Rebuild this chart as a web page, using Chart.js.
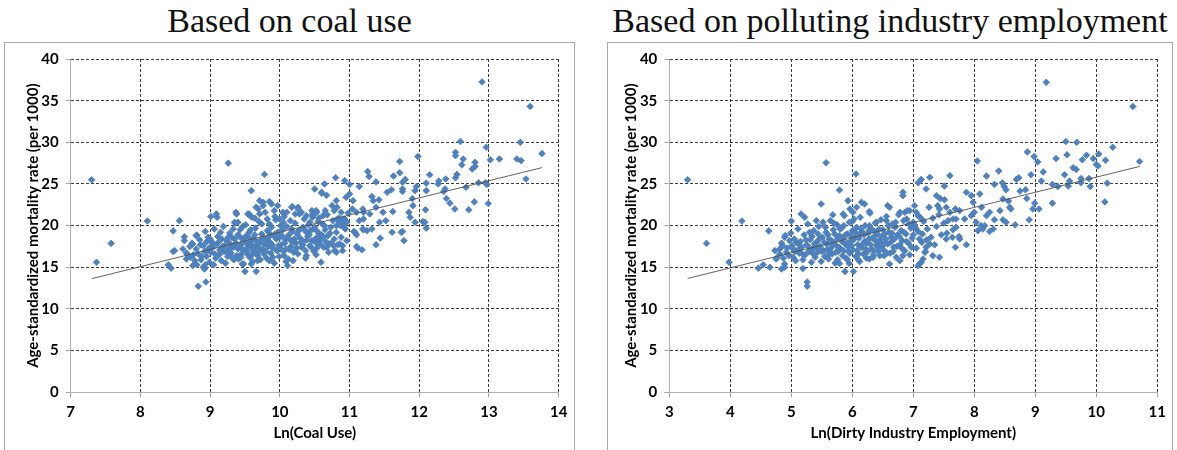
<!DOCTYPE html>
<html>
<head>
<meta charset="utf-8">
<script src="https://cdn.jsdelivr.net/npm/chart.js@4.4.1/dist/chart.umd.min.js"></script>
<style>
body { margin: 0; background: #fff; width: 1177px; height: 450px; overflow: hidden; position: relative; }
.ttl { position: absolute; top: 4px; font-family: "Liberation Serif", serif; font-size: 34px; line-height: 34px; text-align: center; color: #111; white-space: nowrap; }
.frame { position: absolute; top: 42px; border: 1px solid #a6a6a6; border-bottom: none; background: #fff; }
canvas { display: block; }
</style>
</head>
<body>
<div class="ttl" style="left:4px;width:571px">Based on coal use</div>
<div class="frame" style="left:4px;width:569px;height:407px"><canvas id="coalChart" width="569" height="407"></canvas></div>
<div class="ttl" style="left:607px;width:566px">Based on polluting industry employment</div>
<div class="frame" style="left:607px;width:564px;height:407px"><canvas id="dirtyChart" width="564" height="407"></canvas></div>
<script>
// ln(coal use) vs mortality
var coalData = [
  [7.3,25.5],[7.37,15.6],[7.58,17.87],[8.1,20.55],[8.4,15.3],[8.44,14.9],[8.49,17.0],[8.47,19.37],[8.56,20.6],
  [8.63,18.66],[8.81,18.86],[8.83,12.73],[8.94,13.24],[9.5,14.5],[9.66,14.5],[8.76,16.5],[8.81,15.3],[8.93,15.3],
  [8.66,16.7],[8.71,17.5],[8.86,17.7],[8.95,18.07],[8.63,18.2],[8.75,17.8],[8.93,19.3],[8.47,16.9],[8.61,17.2],
  [8.67,16.6],[8.66,16.0],[8.75,15.2],[8.9,15.0],[8.92,14.8],[8.8,18.8],
  [12.59,30.1],[13.45,30.0],[12.96,29.4],[13.76,28.65],[12.52,28.8],[12.52,28.4],[12.63,28.0],[12.8,27.6],[12.8,27.1],
  [12.61,27.3],[13.02,27.9],[13.15,28.0],[13.4,28.0],[13.46,27.8],[11.98,28.3],[11.72,27.7],[11.26,26.5],[11.28,25.9],
  [11.72,26.35],[11.8,25.55],[11.76,25.2],[11.63,25.95],[12.15,26.1],[12.28,25.35],[12.27,25.0],[12.38,25.6],
  [12.52,25.75],[12.54,26.15],[12.76,26.8],[12.85,25.15],[12.95,25.15],[12.97,24.95],[12.67,24.6],[13.53,25.6],
  [12.9,37.25],[13.59,34.3],
  [10.8,25.75],[10.93,25.4],[11.0,24.95],[10.64,25.0],[10.5,24.4],[10.6,24.0],[10.67,23.65],[9.78,26.15],[9.26,27.5],
  [9.59,24.2],[11.14,24.7],[11.38,25.25],[11.54,24.0],[11.6,24.3],[11.76,24.4],[11.76,24.1],[11.96,24.7],[11.94,24.2],
  [12.1,25.1],[12.1,24.2],[12.35,24.1],[12.37,24.4],[12.39,23.25],[12.44,22.7],[12.51,22.0],[12.71,21.9],[12.79,22.85],
  [12.99,22.65],[11.9,23.25],[11.91,22.4],[12.09,21.9],[11.85,21.6],[11.87,21.0],[11.94,20.4],[12.05,20.5],[12.08,20.4],
  [12.1,19.7],[11.76,19.3],[11.78,18.2],[11.62,21.7],[11.44,18.5],[11.38,17.7],[11.32,23.5],[11.34,23.0],[11.42,23.1],
  [11.38,22.2],[11.19,22.0],[11.2,21.6],[11.29,21.4],[11.1,21.6],[11.14,20.6],[11.2,20.8],[11.19,19.6],[11.25,19.4],
  [11.32,19.6],[11.43,20.4],[11.52,20.6],[11.48,21.6],[11.08,19.2],[11.1,18.9],[11.12,17.3],[11.18,17.1],[11.61,19.2],
  [11.74,19.2],[11.04,22.0],[11.05,23.0],[10.95,23.4],[11.0,23.8],[10.81,23.0],[10.88,21.6],[10.93,20.8],[10.9,20.2],
  [10.81,20.0],[10.86,20.4],[10.75,22.4],[10.78,21.8],[10.52,21.8],[10.47,21.4],[10.65,21.8],[10.56,20.9],[10.38,21.2],
  [10.43,20.4],[10.33,19.8],[10.26,22.2],[10.18,22.3],[10.31,21.6],[10.04,21.6],[9.99,20.8],[9.92,21.8],[9.85,22.9],
  [9.88,22.6],[9.97,22.4],[9.76,22.8],[9.71,23.0],[9.69,22.0],[9.56,21.4],[9.54,21.4],[9.37,21.6],[9.4,20.4],[9.35,20.4],
  [9.09,21.4],[9.1,21.0],[9.01,21.1],[9.46,15.4],[9.59,15.4],[9.68,15.8],[9.85,15.8],[10.11,15.2],[10.09,15.7],
  [10.38,16.4],[10.37,16.1],[10.52,16.5],[10.59,15.6],[10.81,16.8],[10.9,17.6],[10.86,17.8],[10.67,17.4],[10.71,17.8],
  [10.59,18.8],[10.6,23.9],[9.66,22.2],[9.76,22.4],[9.38,21.4],[9.57,21.2],[9.71,21.4],[10.17,22.2],[10.26,22.0],
  [10.22,21.4],[10.1,21.6],[10.46,21.8],[10.53,21.6],[10.48,21.2],[10.62,21.2],[10.82,22.2],[10.82,20.8],[10.91,20.8],
  [10.96,20.4],[10.87,20.0],[10.94,19.6],[11.06,19.3],[11.2,19.5],[11.1,17.5],[10.79,17.0],[10.55,17.9],
  [8.72,16.2],[8.74,17.9],[8.78,15.8],[8.8,17.2],[8.83,16.6],[8.85,18.3],[8.87,15.9],[8.9,17.6],[8.92,16.9],[8.95,16.3],
  [8.97,18.6],[8.98,17.3],[8.99,15.6],
  [9.01,16.8],[9.02,18.1],[9.04,17.4],[9.05,15.3],[9.06,19.6],[9.08,16.1],[9.1,17.8],[9.11,18.7],[9.13,16.5],[9.14,17.1],
  [9.16,15.8],[9.17,18.4],[9.19,19.9],[9.2,16.9],
  [9.21,17.6],[9.22,15.5],[9.24,18.2],[9.25,16.3],[9.27,17.0],[9.28,19.1],[9.3,16.7],[9.31,18.6],[9.33,17.4],[9.34,15.9],
  [9.36,20.3],[9.37,17.9],[9.38,16.4],[9.4,18.9],[9.4,17.2],
  [9.41,16.0],[9.43,19.5],[9.44,17.7],[9.45,16.6],[9.47,18.3],[9.48,15.4],[9.5,17.1],[9.51,20.1],[9.52,18.8],[9.53,16.9],
  [9.55,17.5],[9.56,19.2],[9.57,16.2],[9.58,18.0],[9.6,21.0],[9.6,17.3],
  [9.61,15.7],[9.62,18.5],[9.63,16.8],[9.65,19.7],[9.66,17.6],[9.67,18.1],[9.68,16.4],[9.7,20.5],[9.71,17.9],[9.72,15.9],
  [9.74,19.0],[9.75,17.2],[9.76,18.6],[9.77,16.6],[9.79,21.6],[9.8,18.2],
  [9.81,16.1],[9.82,19.4],[9.83,17.5],[9.85,20.2],[9.86,18.0],[9.87,16.7],[9.88,19.8],[9.9,17.3],[9.91,18.8],[9.92,15.5],
  [9.94,20.7],[9.95,18.4],[9.96,17.0],[9.97,19.2],[9.99,16.3],[10.0,18.6],
  [10.01,20.0],[10.02,17.7],[10.04,19.5],[10.05,16.9],[10.06,21.1],[10.08,18.3],[10.09,17.2],[10.1,19.9],[10.12,16.0],
  [10.13,18.9],[10.15,20.6],[10.16,17.5],[10.18,19.3],[10.19,15.8],[10.2,18.1],
  [10.22,20.3],[10.23,17.9],[10.25,19.0],[10.26,16.6],[10.28,21.4],[10.29,18.5],[10.31,17.4],[10.32,19.7],[10.34,18.1],
  [10.35,20.8],[10.37,17.0],[10.38,19.2],[10.4,18.7],
  [10.41,20.1],[10.43,17.6],[10.44,19.4],[10.46,18.2],[10.47,21.0],[10.49,16.9],[10.5,19.8],[10.52,18.5],[10.53,17.3],
  [10.55,20.5],[10.56,19.0],[10.58,17.8],[10.6,18.9],
  [10.61,20.2],[10.63,17.4],[10.65,19.5],[10.66,18.1],[10.68,21.3],[10.7,16.8],[10.72,19.1],[10.74,17.9],[10.76,20.6],
  [10.78,18.4],[10.81,19.2],[10.83,17.7],[10.85,20.9],[10.88,18.6],[10.9,17.0],[10.93,19.7],[10.96,18.2],[10.98,21.5],
  [9.03,17.9],[9.07,16.6],[9.12,18.0],[9.15,16.9],[9.18,17.5],[9.23,16.9],[9.26,18.6],[9.29,17.8],[9.32,16.1],[9.35,18.4],
  [9.39,17.6],[9.42,18.7],[9.46,17.2],[9.49,18.5],[9.54,16.5],[9.55,18.6],[9.59,17.7],[9.62,17.1],[9.64,18.9],[9.69,17.4],
  [9.73,18.3],[9.78,17.8],[9.8,16.9],[9.84,18.6],[9.89,17.7],[9.93,19.0],[9.98,17.6],[10.03,18.8],[10.07,17.9],[10.11,18.6],
  [10.14,17.1],[10.17,19.6],[10.21,18.4],[10.24,17.3],[10.27,19.4],[10.3,18.0],[10.33,17.7],[10.36,19.5],[10.39,18.3],
  [10.42,18.9],[10.45,17.4],[10.48,19.6],[10.51,18.0],[10.54,19.3],[10.57,18.2],[10.62,18.6],[10.64,20.0],[10.69,18.8],
  [10.73,19.8],[10.77,17.6],[9.28,17.3],[9.44,16.2],[9.52,17.9],[9.6,16.5],[9.7,16.9],[9.74,20.2],[9.85,19.1],[9.9,16.2],
  [10.0,17.3],[10.06,16.4],[10.16,18.2],[10.2,16.8],[9.15,19.2],[9.33,19.6],[9.47,19.9],[9.58,19.5],[9.64,20.9],
  [9.82,20.8],[9.93,21.1],[10.05,20.4],[9.0,18.4],[8.96,17.0],[8.88,16.3]
];

// ln(dirty industry employment) vs mortality
var dirtyData = [
  [3.3,25.5],[4.19,20.55],[4.63,19.37],[5.0,20.55],[5.57,27.55],[6.06,26.2],[5.79,24.27],[3.61,17.87],[3.98,15.6],
  [4.46,14.9],[4.54,15.3],[4.65,15.0],[5.26,13.24],[5.26,12.73],[4.76,16.1],[5.88,14.5],[6.02,14.5],[9.18,37.2],[10.6,34.3],
  [9.5,30.1],[9.68,30.0],[10.27,29.4],[10.71,27.7],[8.87,28.85],[8.98,28.3],[9.04,27.65],[9.34,28.05],[9.52,28.5],
  [9.77,27.9],[9.84,28.45],[9.95,28.05],[10.04,28.6],[10.15,27.85],[10.0,27.35],[10.03,27.15],[9.62,26.95],[9.67,26.75],
  [9.48,26.1],[9.56,25.35],[9.75,25.65],[9.88,25.65],[9.75,25.15],[9.28,24.95],[9.37,24.7],[9.54,24.75],[9.9,24.7],
  [10.18,25.1],[10.14,22.85],[9.28,22.7],[8.93,26.1],[9.13,26.45],[9.1,25.35],[8.05,27.75],[8.4,26.55],[8.2,25.95],
  [8.69,25.55],[8.73,25.75],[8.84,24.3],[8.75,24.15],[8.33,24.95],[8.46,25.15],[8.49,24.7],[8.52,24.3],[8.47,23.2],
  [8.56,22.95],[8.58,22.2],[8.6,22.0],[8.86,23.25],[8.99,22.7],[8.96,22.0],[9.06,22.0],[8.9,20.7],[8.42,21.8],[8.33,20.7],
  [8.47,20.7],[8.52,20.4],[8.67,20.1],[8.25,21.6],[8.2,21.2],[8.31,19.6],[8.25,19.3],[8.17,20.0],[8.0,21.6],[7.95,21.2],
  [8.03,20.4],[8.11,20.0],[8.14,19.6],[8.06,19.4],[7.87,24.0],[7.95,23.6],[8.09,23.8],[7.98,22.8],[8.12,22.2],[7.6,26.0],
  [7.27,25.8],[7.13,25.55],[7.08,25.15],[7.21,24.4],[7.51,24.75],[6.83,24.0],[6.83,23.6],[7.38,23.6],[7.44,23.25],
  [7.51,23.1],[7.4,22.4],[7.43,22.0],[7.54,22.2],[7.69,22.0],[7.76,21.8],[7.84,20.8],[7.65,20.8],[7.57,20.6],[7.7,19.8],
  [7.64,18.6],[7.54,18.4],[7.69,17.4],[7.76,18.4],[7.87,17.7],[7.43,16.2],[7.32,16.4],[7.16,16.0],[7.1,15.4],[7.08,15.2],
  [7.21,17.4],[7.27,17.8],[7.19,16.8],[7.02,22.4],[7.05,21.6],[6.94,21.8],[6.86,21.6],[6.89,20.8],[7.0,20.4],[7.08,21.2],
  [7.16,20.6],[6.58,22.4],[6.61,22.2],[6.28,21.7],[6.15,22.8],[6.2,22.6],[6.07,22.2],[5.93,23.0],[5.49,22.6],[5.16,21.4],
  [5.22,21.0],[5.41,20.6],[5.52,20.4],[5.68,21.3],[5.85,21.4],[5.96,22.0],[6.01,21.6],[6.28,20.0],[6.39,20.4],[6.56,20.6],
  [6.78,21.6],[4.75,16.0],[4.89,15.4],[4.89,15.0],[4.84,14.8],[4.89,18.6],[4.97,18.2],[4.86,17.6],[5.08,18.0],[5.14,17.2],
  [4.73,17.0],[4.81,17.2],[4.92,16.8],[5.19,14.85],[5.79,15.45],[5.95,15.45],[6.12,15.7],[6.28,16.0],[6.45,16.4],
  [6.61,15.4],[6.78,15.8],[6.83,16.4],[7.13,15.6],
  [4.81,16.6],[4.84,17.9],[4.87,16.1],[4.9,18.8],[4.93,17.3],[4.96,16.4],[4.99,19.1],
  [5.01,17.6],[5.03,16.2],[5.05,18.4],[5.07,15.8],[5.09,17.0],[5.11,19.6],[5.13,16.7],[5.15,18.1],[5.17,17.4],[5.19,15.9],
  [5.21,18.9],[5.23,16.5],[5.25,17.7],[5.27,20.2],[5.29,16.9],[5.31,18.3],[5.33,15.6],[5.35,17.2],[5.37,19.4],[5.39,16.2],
  [5.41,18.0],[5.43,16.8],[5.45,19.9],[5.47,17.5],[5.49,15.7],[5.51,18.6],[5.53,17.0],[5.55,16.3],[5.57,19.2],[5.59,17.8],
  [5.61,16.0],[5.62,18.4],[5.64,20.6],[5.65,17.3],[5.67,16.6],[5.69,19.5],[5.7,18.0],[5.72,15.5],[5.74,17.6],[5.75,20.1],
  [5.77,16.9],[5.79,18.8],
  [5.81,17.2],[5.82,19.7],[5.84,16.4],[5.85,18.5],[5.87,21.2],[5.88,17.8],[5.9,16.1],[5.92,19.0],[5.93,17.5],[5.95,20.4],
  [5.96,16.7],[5.98,18.2],[6.0,19.4],
  [6.01,17.1],[6.03,20.8],[6.04,18.6],[6.06,16.3],[6.07,19.8],[6.09,17.7],[6.1,15.9],[6.12,18.9],[6.13,21.0],[6.15,17.4],
  [6.16,19.3],[6.18,16.6],[6.2,18.1],
  [6.21,20.0],[6.23,17.9],[6.24,16.8],[6.26,19.1],[6.27,18.4],[6.29,21.5],[6.31,17.2],[6.32,19.6],[6.34,16.2],[6.36,18.7],
  [6.38,20.3],[6.4,17.6],
  [6.41,19.0],[6.43,16.9],[6.45,18.3],[6.47,20.7],[6.49,17.5],[6.5,19.5],[6.52,16.4],[6.54,18.0],[6.56,21.1],[6.58,17.8],
  [6.6,19.2],
  [6.62,16.7],[6.64,18.6],[6.66,20.2],[6.68,17.4],[6.7,19.8],[6.72,16.2],[6.74,18.9],[6.76,21.3],[6.78,17.7],[6.8,19.4],
  [6.82,18.2],[6.84,20.6],[6.86,17.0],[6.88,19.0],[6.9,21.8],[6.92,17.9],[6.94,16.5],[6.96,19.7],[6.98,18.5],
  [7.02,20.1],[7.05,17.3],[7.08,19.3],[7.11,21.0],[7.14,18.0],[7.17,20.5],[7.2,16.9],[7.23,19.6],[7.26,22.2],[7.29,18.6],
  [7.32,20.9],[7.35,17.7],[7.38,19.9],
  [7.42,21.3],[7.46,18.9],[7.5,20.3],[7.55,19.1],[7.6,21.6],[7.65,19.5],[7.7,20.8],[7.75,18.7],
  [5.02,17.3],[5.06,16.9],[5.12,17.8],[5.18,16.6],[5.24,18.3],[5.28,17.5],[5.34,18.7],[5.38,17.8],[5.42,17.3],[5.46,18.4],
  [5.5,16.9],[5.54,18.0],[5.58,17.1],[5.6,18.9],[5.63,16.9],[5.66,18.2],[5.68,17.7],[5.71,19.0],[5.73,16.8],[5.76,18.5],
  [5.78,17.4],[5.8,19.6],[5.83,18.1],[5.86,17.0],[5.89,18.9],[5.91,17.9],[5.94,16.9],[5.97,18.8],[5.99,17.6],[6.02,18.3],
  [6.05,19.2],[6.08,17.0],[6.11,18.5],[6.14,19.6],[6.17,17.8],[6.19,18.9],[6.22,17.2],[6.25,18.2],[6.28,19.5],[6.3,17.7],
  [6.33,18.5],[6.35,17.0],[6.37,19.3],[6.39,18.1],[6.42,17.4],[6.44,19.6],[6.46,17.9],[6.48,18.7],[6.51,17.1],[6.53,19.0],
  [6.55,18.4],[6.57,16.7],[6.59,20.0],[6.63,18.0],[6.65,19.1],[6.67,16.9],[6.69,18.4],[6.71,20.4],[6.73,17.5],[6.77,18.7],
  [6.81,17.3],[6.85,19.2],[6.89,18.1],[6.93,20.2],[6.97,17.4],[7.0,18.9],[7.04,19.7],[7.1,18.4],[7.15,19.0],[7.22,18.3],
  [5.3,19.2],[5.44,19.0],[5.56,19.8],[5.7,20.3],[5.86,20.0],[6.0,20.5],[6.1,16.6],[6.23,16.1],[6.35,16.5],[5.92,15.9],
  [5.76,15.9],[5.6,16.4],[5.36,16.6]
];

var yTitle = 'Age-standardized mortality rate (per 1000)';
var coalXTitle = 'Ln(Coal Use)';
var dirtyXTitle = 'Ln(Dirty Industry Employment)';

// least squares trend line over the data range
function trend(points) {
  var n = points.length, sx = 0, sy = 0, sxx = 0, sxy = 0;
  var lo = Infinity, hi = -Infinity;
  points.forEach(function (p) {
    sx += p[0]; sy += p[1]; sxx += p[0] * p[0]; sxy += p[0] * p[1];
    if (p[0] < lo) lo = p[0];
    if (p[0] > hi) hi = p[0];
  });
  var b = (n * sxy - sx * sy) / (n * sxx - sx * sx);
  var a = (sy - b * sx) / n;
  return [{x: lo, y: a + b * lo}, {x: hi, y: a + b * hi}];
}

var tickFont = {family: 'Lato', weight: 'bold', size: 15};

function makeChart(id, points, xMin, xMax, xTitle, yWidth, rightPad, yTitlePad) {
  return new Chart(id, {
    type: 'scatter',
    data: {
      datasets: [{
        data: trend(points),
        showLine: true,
        borderColor: '#505050',
        borderWidth: 0.9,
        pointRadius: 0
      }, {
        data: points.map(function (p) { return {x: p[0], y: p[1]}; }),
        pointStyle: 'rectRot',
        pointRadius: 3.3,
        pointBackgroundColor: '#4f81bd',
        pointBorderColor: '#4a7ebb',
        pointBorderWidth: 0.8
      }]
    },
    options: {
      responsive: false,
      animation: false,
      devicePixelRatio: 1,
      layout: {padding: {top: 12, right: rightPad, left: 0, bottom: 0}},
      plugins: {legend: {display: false}, tooltip: {enabled: false}},
      scales: {
        x: {
          min: xMin, max: xMax,
          ticks: {stepSize: 1, font: tickFont, color: '#000', padding: 6, maxRotation: 0},
          grid: {color: '#3c3c3c', tickColor: '#a6a6a6', tickLength: 5},
          border: {color: '#b0b0b0', dash: [3, 2]},
          title: {display: true, text: xTitle, font: tickFont, color: '#000', padding: {top: 0, bottom: 8}},
          afterFit: function (s) { s.height = 57.7; }
        },
        y: {
          min: 0, max: 40,
          ticks: {stepSize: 5, font: tickFont, color: '#000', padding: 7},
          grid: {color: '#3c3c3c', tickColor: '#a6a6a6', tickLength: 5},
          border: {color: '#b0b0b0', dash: [3, 2]},
          title: {display: true, text: yTitle, font: tickFont, color: '#000', padding: {top: yTitlePad, bottom: 0}},
          afterFit: function (s) { s.width = yWidth; }
        }
      }
    }
  });
}

makeChart('coalChart', coalData, 7, 14, coalXTitle, 65.7, 15.3, 18.7);
makeChart('dirtyChart', dirtyData, 3, 11, dirtyXTitle, 61.3, 14.7, 14);
</script>
</body>
</html>
